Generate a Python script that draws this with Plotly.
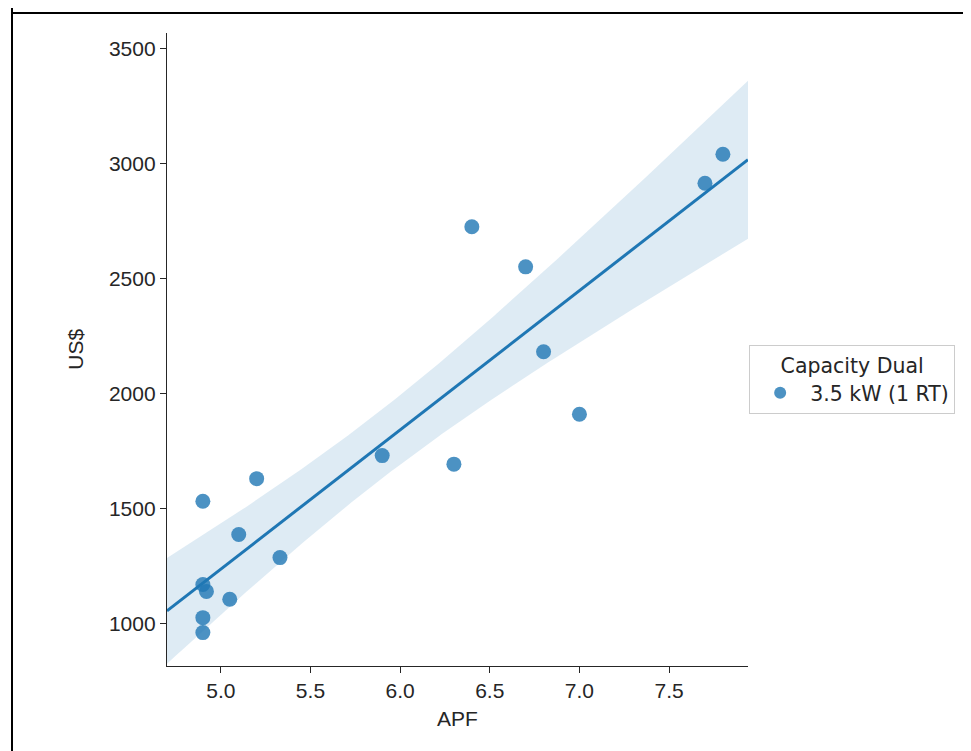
import numpy as np
import plotly.graph_objects as go

# ---- data ----
apf = [4.90, 4.90, 4.92, 5.05, 4.90, 4.90, 5.10, 5.20, 5.33, 5.90,
       6.30, 6.40, 6.70, 6.80, 7.00, 7.70, 7.80]
usd = [1532, 1170, 1140, 1106, 1026, 961, 1387, 1630, 1287, 1730,
       1693, 2724, 2550, 2181, 1910, 2913, 3039]
series_name = "3.5 kW (1 RT)"
legend_title = "Capacity Dual"
x_ticks = [5.0, 5.5, 6.0, 6.5, 7.0, 7.5]
y_ticks = [1000, 1500, 2000, 2500, 3000, 3500]
x_range = [4.70, 7.94]
y_range = [816, 3566]

# ---- regression with 95% confidence band ----
x = np.array(apf, float)
y = np.array(usd, float)
n = len(x)
b1, b0 = np.polyfit(x, y, 1)
resid = y - (b0 + b1 * x)
s = np.sqrt(np.sum(resid ** 2) / (n - 2))
t_crit = 2.131  # t(0.975, df=15)
xg = np.linspace(x_range[0], x_range[1], 200)
yg = b0 + b1 * xg
se = s * np.sqrt(1.0 / n + (xg - x.mean()) ** 2 / np.sum((x - x.mean()) ** 2))
upper = yg + t_crit * se
lower = yg - t_crit * se

blue = "#1f77b4"
fig = go.Figure()
fig.add_trace(go.Scatter(
    x=np.concatenate([xg, xg[::-1]]), y=np.concatenate([upper, lower[::-1]]),
    fill="toself", fillcolor="rgba(31,119,180,0.15)", line=dict(width=0),
    hoverinfo="skip", showlegend=False, mode="lines"))
fig.add_trace(go.Scatter(
    x=apf, y=usd, mode="markers", name=series_name,
    marker=dict(color="rgba(31,119,180,0.8)", size=15, line=dict(width=0))))
fig.add_trace(go.Scatter(
    x=xg, y=yg, mode="lines", line=dict(color=blue, width=3),
    showlegend=False, hoverinfo="skip"))

W, H = 963, 743
L, T = 159, 25
PW, PH = 581, 633
tick_font = dict(family="Liberation Sans, Arial, sans-serif", size=21, color="#262626")
fig.update_layout(
    width=W, height=H,
    margin=dict(l=L, r=W - L - PW, t=T, b=H - T - PH),
    plot_bgcolor="white", paper_bgcolor="white",
    showlegend=True,
    legend=dict(
        title=dict(text=legend_title, side="top center",
                   font=dict(family="DejaVu Sans", size=20.5, color="#262626")),
        font=dict(family="DejaVu Sans", size=20.5, color="#262626"),
        x=1.002, xanchor="left", y=0.452, yanchor="middle",
        bordercolor="#cccccc", borderwidth=1, bgcolor="white",
        itemsizing="constant", itemwidth=50),
    xaxis=dict(range=x_range, tickvals=x_ticks, ticktext=[f"{v:.1f}" for v in x_ticks],
               showgrid=False, zeroline=False, showline=True, linecolor="#262626",
               linewidth=1.3, ticks="outside", ticklen=6, tickcolor="#262626",
               tickfont=tick_font, mirror=False),
    yaxis=dict(range=y_range, tickvals=y_ticks, ticktext=[str(v) for v in y_ticks],
               showgrid=False, zeroline=False, showline=True, linecolor="#262626",
               linewidth=1.3, ticks="outside", ticklen=6, tickcolor="#262626",
               tickfont=tick_font, mirror=False),
    annotations=[
        dict(text="APF", xref="paper", yref="paper", x=0.5, y=-0.083,
             xanchor="center", yanchor="middle", showarrow=False, font=tick_font),
        dict(text="US$", xref="paper", yref="paper", x=-0.158, y=0.5,
             xanchor="center", yanchor="middle", textangle=-90, showarrow=False,
             font=tick_font),
    ],
    shapes=[
        dict(type="line", xref="paper", yref="paper",
             x0=(4 - L) / PW, x1=(4 - L) / PW,
             y0=1 + (T + 5) / PH, y1=-0.3, line=dict(color="black", width=2)),
        dict(type="line", xref="paper", yref="paper",
             x0=(4 - L) / PW, x1=1.5,
             y0=1 + (T - 5) / PH, y1=1 + (T - 5) / PH, line=dict(color="black", width=2)),
    ],
)
fig.write_html("out.html")
